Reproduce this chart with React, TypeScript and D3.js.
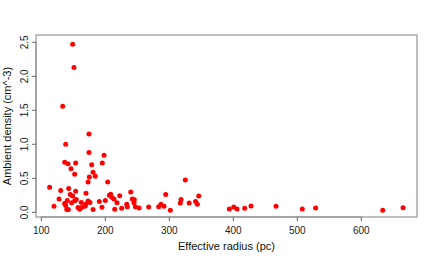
import React from 'react';
import * as d3 from 'd3';

// effective radius (pc) and ambient density (cm^-3)
const radius = [
  149, 151, 133.4, 174.5, 138.1, 174.5, 198, 136.5, 141.7, 153.7,
  178.7, 195.3, 146.4, 152.2, 180.8, 175, 184.4, 173, 203.7, 113,
  130.3, 142.8, 153.7, 169.8, 145.3, 149, 127.7, 140.6, 154.7, 152.2,
  136.5, 147.4, 162.5, 173, 176, 169.4, 190.6, 200, 206.3, 210,
  119.8, 138.1, 139.7, 142.2, 157.3, 160, 163.1, 168.3, 180.8, 194.8,
  214.7, 208.4, 213.6, 222.5, 218.3, 225.6, 233.4, 234.4, 239.7, 242.2,
  245.3, 244.8, 246.9, 252.7, 267.8, 283.4, 287, 291.7, 294.4, 301.6,
  325, 318.3, 317.2, 331, 341, 343.8, 346, 393.8, 400.6, 405.8,
  417.8, 427.7, 466.7, 507.8, 528.7, 633.4, 665.2,
];
const density = [
  2.47, 2.13, 1.56, 1.15, 1.0, 0.88, 0.84, 0.735, 0.715, 0.725,
  0.7, 0.725, 0.64, 0.56, 0.59, 0.52, 0.53, 0.445, 0.445, 0.37,
  0.32, 0.35, 0.31, 0.28, 0.26, 0.24, 0.195, 0.175, 0.19, 0.17,
  0.13, 0.14, 0.145, 0.165, 0.145, 0.12, 0.16, 0.175, 0.25, 0.22,
  0.09, 0.1, 0.04, 0.04, 0.07, 0.045, 0.07, 0.09, 0.04, 0.075,
  0.045, 0.265, 0.195, 0.245, 0.14, 0.06, 0.12, 0.08, 0.3, 0.195,
  0.185, 0.14, 0.08, 0.063, 0.078, 0.083, 0.12, 0.088, 0.26, 0.03,
  0.475, 0.19, 0.137, 0.137, 0.16, 0.12, 0.24, 0.05, 0.078, 0.05,
  0.058, 0.093, 0.088, 0.048, 0.063, 0.03, 0.068,
];
const xTicks = [100, 200, 300, 400, 500, 600];
const yTicks = [0, 0.5, 1, 1.5, 2, 2.5];

const W = 436;
const H = 262;
const left = 36, right = 417, top = 35, bottom = 217;
const font = '"Liberation Sans", Arial, sans-serif';

export default function App() {
  const x = d3.scaleLinear().domain([91.7, 687]).range([left, right]);
  const y = d3.scaleLinear().domain([-0.069, 2.607]).range([bottom, top]);

  return (
    <svg width={W} height={H} style={{ position: 'absolute', left: 0, top: 0, background: '#fff' }}>
      <rect x={left} y={top} width={right - left} height={bottom - top}
        fill="none" stroke="#aaa" strokeWidth={1.5} />

      {/* x axis */}
      <line x1={x(100)} x2={x(600)} y1={bottom} y2={bottom} stroke="#888" />
      {xTicks.map(t => (
        <g key={t} transform={`translate(${x(t)},0)`}>
          <line y1={bottom} y2={bottom + 4} stroke="#666" />
          <text y={234} textAnchor="middle" fontSize={10} fontFamily={font} fill="#222">{t}</text>
        </g>
      ))}
      <text x={(left + right) / 2} y={250} textAnchor="middle" fontSize={11} fontFamily={font} fill="#111">
        Effective radius (pc)
      </text>

      {/* y axis */}
      <line x1={left} x2={left} y1={y(0)} y2={y(2.5)} stroke="#888" />
      {yTicks.map(t => (
        <g key={t} transform={`translate(0,${y(t)})`}>
          <line x1={left - 4} x2={left} stroke="#666" />
          <text transform={`translate(28,0) rotate(-90)`} textAnchor="middle" fontSize={10}
            fontFamily={font} fill="#222">{t.toFixed(1)}</text>
        </g>
      ))}
      <text transform={`translate(11,${(top + bottom) / 2}) rotate(-90)`} textAnchor="middle"
        fontSize={11} fontFamily={font} fill="#111">
        Ambient density (cm^-3)
      </text>

      {radius.map((r, i) => (
        <circle key={i} cx={x(r)} cy={y(density[i])} r={2.5} fill="#ff0000" />
      ))}
    </svg>
  );
}
